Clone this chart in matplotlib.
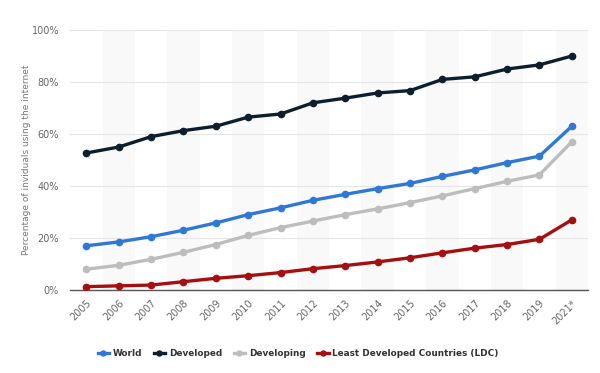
import matplotlib
matplotlib.use("Agg")
import matplotlib.pyplot as plt
from matplotlib.ticker import PercentFormatter

# internet usage share (%) by development group
years = ["2005", "2006", "2007", "2008", "2009", "2010", "2011", "2012",
         "2013", "2014", "2015", "2016", "2017", "2018", "2019", "2021*"]
world = [17, 18.5, 20.5, 23, 25.8, 29, 31.6, 34.5, 36.8, 39, 41, 43.7, 46.2, 49, 51.5, 63]
developed = [52.7, 55, 59, 61.3, 63, 66.5, 67.7, 72, 73.8, 75.8, 76.7, 81, 82, 85, 86.6, 90]
developing = [8, 9.5, 11.8, 14.5, 17.5, 21, 24, 26.5, 29, 31.2, 33.6, 36.2, 39, 41.8, 44.3, 57]
ldc = [1.3, 1.6, 1.9, 3.2, 4.5, 5.5, 6.7, 8.2, 9.4, 10.8, 12.4, 14.3, 16.1, 17.5, 19.5, 27]

series = [
    ("World", world, "#2f78d6"),
    ("Developed", developed, "#0d1f2f"),
    ("Developing", developing, "#bdbdbd"),
    ("Least Developed Countries (LDC)", ldc, "#a50f0f"),
]

fig = plt.figure(figsize=(6, 3.73), dpi=100)
ax = fig.add_axes([0.117, 0.2225, 0.863, 0.697])

x = list(range(len(years)))

# alternating column shading
for i in x:
    if i % 2 == 1:
        ax.axvspan(i - 0.5, i + 0.5, color="#f9f9f9", zorder=0, lw=0)

for name, vals, col in series:
    ax.plot(x, vals, color=col, lw=2.4, marker="o", ms=4.5, label=name, zorder=3)

ax.set_xlim(-0.5, len(years) - 0.5)
ax.set_ylim(0, 100)
ax.set_yticks([0, 20, 40, 60, 80, 100])
ax.yaxis.set_major_formatter(PercentFormatter(decimals=0))
ax.set_xticks(x)
ax.set_xticklabels(years, rotation=45, ha="right", rotation_mode="anchor")
ax.grid(axis="y", color="#e6e6e6", lw=0.8, zorder=1)
ax.set_axisbelow(True)

for s in ["top", "right", "left"]:
    ax.spines[s].set_visible(False)
ax.spines["bottom"].set_color("#555555")
ax.spines["bottom"].set_linewidth(1)
ax.tick_params(axis="both", length=0, labelsize=7, labelcolor="#666666")
ax.tick_params(axis="y", pad=8)
ax.tick_params(axis="x", pad=6)

ax.set_ylabel("Percentage of inviduals using the internet", fontsize=6.5, color="#777777")
ax.yaxis.set_label_coords(-0.075, 0.5)

ax.legend(loc="center", bbox_to_anchor=(0.44, -0.246), ncol=4, frameon=False,
          prop={"size": 6.4, "weight": "bold"}, labelcolor="#333333",
          handlelength=1.3, columnspacing=1.3, handletextpad=0.4, markerscale=0.8)

plt.savefig("out.png", dpi=100)
